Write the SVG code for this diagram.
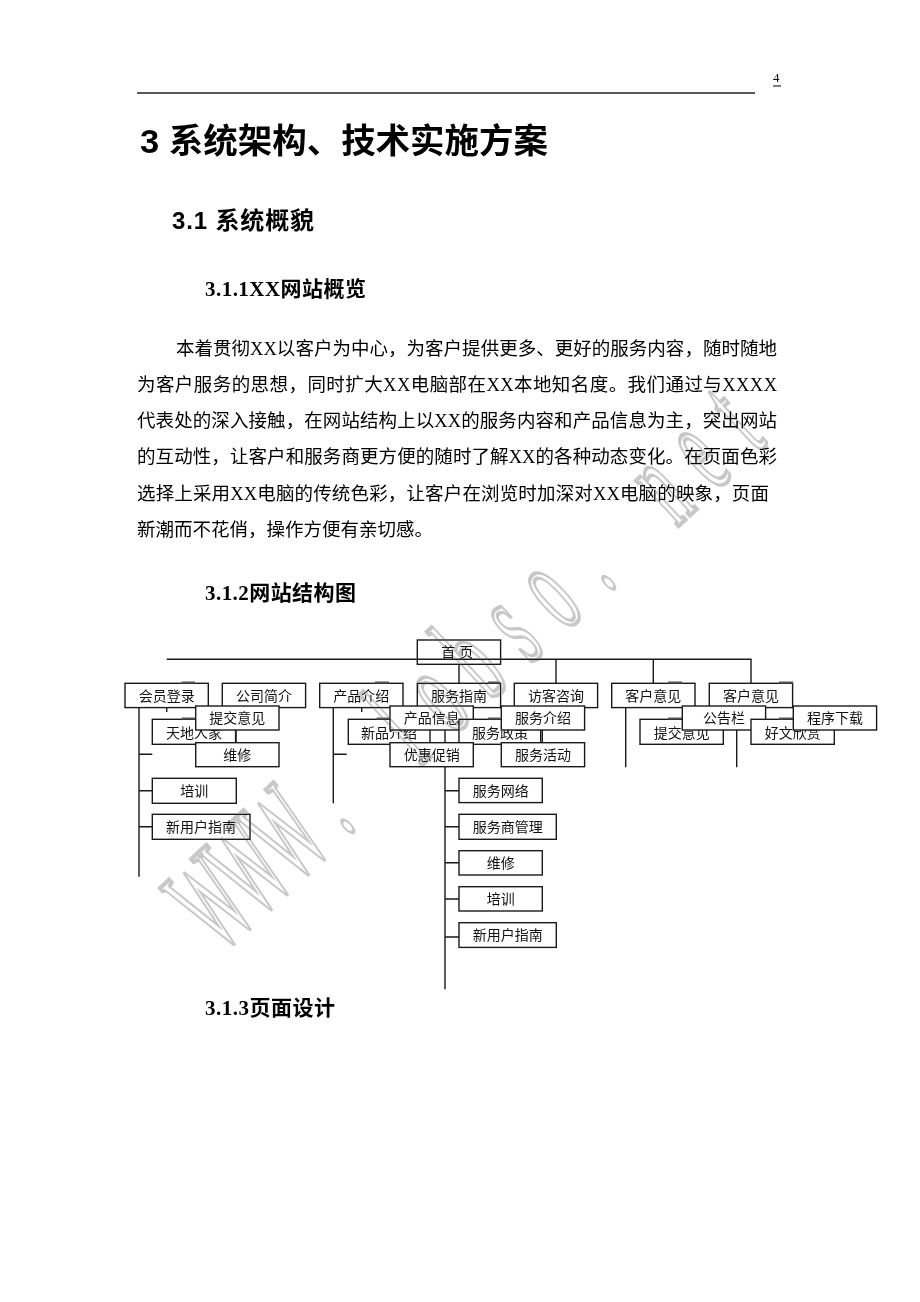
<svg xmlns="http://www.w3.org/2000/svg" width="920" height="1302" viewBox="0 0 920 1302">
<style>
.box{fill:#fff;stroke:#1a1a1a;stroke-width:1.4}
.bt{font-family:"Liberation Serif","Noto Sans CJK SC",serif;font-size:14px;text-anchor:middle;fill:#111}
.ln{stroke:#1a1a1a;stroke-width:1.4;fill:none}
.tab{fill:#555}
.p{font-family:"Liberation Serif","Noto Sans CJK SC",serif;font-size:18.5px;fill:#000}
.h3{font-family:"Liberation Serif","Noto Sans CJK SC",serif;font-size:21px;font-weight:bold;fill:#000}
.h1{font-family:"Liberation Sans","Noto Sans CJK SC",sans-serif;font-weight:bold;fill:#000}
.wm{font-family:"Liberation Serif",serif;font-size:118px;text-anchor:middle;fill:none;stroke:#c8c8c8;stroke-width:3.2;vector-effect:non-scaling-stroke}
</style>
<rect width="920" height="1302" fill="#fff"/>
<g id="header">
<text x="773" y="82" font-family="Liberation Serif,serif" font-size="13" fill="#000">4</text>
<line x1="773" y1="86" x2="781" y2="86" stroke="#000" stroke-width="1"/>
<line x1="137" y1="93" x2="755" y2="93" stroke="#222" stroke-width="1.5"/>
</g>
<g id="headings">
<text class="h1" x="140" y="153" font-size="34" textLength="408" lengthAdjust="spacingAndGlyphs">3 系统架构、技术实施方案</text>
<text class="h1" x="172" y="229" font-size="24" textLength="142" lengthAdjust="spacing">3.1 系统概貌</text>
<text class="h3" x="205" y="296" textLength="161" lengthAdjust="spacing">3.1.1XX网站概览</text>
<text class="h3" x="205" y="600" textLength="151" lengthAdjust="spacing">3.1.2网站结构图</text>
<text class="h3" x="205" y="1015" textLength="130" lengthAdjust="spacing">3.1.3页面设计</text>
</g>
<g id="paragraph">
<text class="p" x="176" y="355" textLength="601" lengthAdjust="spacing">本着贯彻XX以客户为中心，为客户提供更多、更好的服务内容，随时随地</text>
<text class="p" x="137" y="391" textLength="640" lengthAdjust="spacing">为客户服务的思想，同时扩大XX电脑部在XX本地知名度。我们通过与XXXX</text>
<text class="p" x="137" y="427" textLength="640" lengthAdjust="spacing">代表处的深入接触，在网站结构上以XX的服务内容和产品信息为主，突出网站</text>
<text class="p" x="137" y="463" textLength="640" lengthAdjust="spacing">的互动性，让客户和服务商更方便的随时了解XX的各种动态变化。在页面色彩</text>
<text class="p" x="137" y="500" textLength="632" lengthAdjust="spacing">选择上采用XX电脑的传统色彩，让客户在浏览时加深对XX电脑的映象，页面</text>
<text class="p" x="137" y="536">新潮而不花俏，操作方便有亲切感。</text>
</g>
<g id="connectors">
<path class="ln" d="M139 707.7V876.7M139 754.3H152.3M139 790.7H152.3M139 826.7H152.3M166.7 707.7V712M236 730V742.7"/>
<path class="ln" d="M333.3 707.7V803.3M333.3 754.3H346.7M361.7 707.7V712"/>
<path class="ln" d="M445 707.7V989.3M445 790.7H459M445 826.7H459M445 862.7H459M445 899H459M445 937H459M542.3 730V742.7"/>
<path class="ln" d="M625.7 707.7V767.3M736.7 707.7V767.3"/>
</g>
<g id="n-home"><rect class="box" x="417.3" y="640" width="83.3" height="24.3"/><text class="bt" x="457.3" y="657" textLength="32" lengthAdjust="spacing">首 页</text></g>
<g id="top-links">
<path class="ln" d="M166.7 659.3H751V683.3M459 664.3V683.3M556 659.3V683.3M653.3 659.3V683.3"/>
</g>
<g id="n-member"><rect class="box" x="125" y="683.3" width="83.3" height="24.3"/><text class="bt" x="166.7" y="700.5">会员登录</text></g>
<g id="n-company"><rect class="box" x="222.3" y="683.3" width="83.3" height="24.3"/><text class="bt" x="264" y="700.5">公司简介</text></g>
<g id="n-product"><rect class="box" x="319.7" y="683.3" width="83.3" height="24.3"/><text class="bt" x="361.3" y="700.5">产品介绍</text></g>
<g id="n-service"><rect class="box" x="417.3" y="683.3" width="83.3" height="24.3"/><text class="bt" x="459" y="700.5">服务指南</text></g>
<g id="n-visitor"><rect class="box" x="514.3" y="683.3" width="83.3" height="24.3"/><text class="bt" x="556" y="700.5">访客咨询</text></g>
<g id="n-feedback1"><rect class="box" x="611.7" y="683.3" width="83.3" height="24.3"/><text class="bt" x="653.3" y="700.5">客户意见</text></g>
<g id="n-feedback2"><rect class="box" x="709.3" y="683.3" width="83.3" height="24.3"/><text class="bt" x="751" y="700.5">客户意见</text></g>
<g id="tabs">
<rect class="tab" x="181.7" y="681.5" width="13.3" height="2"/>
<rect class="tab" x="375" y="681.5" width="14" height="2"/>
<rect class="tab" x="488" y="681.5" width="12" height="2"/>
<rect class="tab" x="668" y="681.5" width="14" height="2"/>
<rect class="tab" x="779" y="681.5" width="14" height="2"/>
</g>
<g id="n-tiandi"><rect class="box" x="152.3" y="719.3" width="83.3" height="25"/><text class="bt" x="194" y="738">天地人家</text><rect class="tab" x="181.7" y="717.5" width="13.3" height="2"/></g>
<g id="n-newprod"><rect class="box" x="348.3" y="719.3" width="81.7" height="25"/><text class="bt" x="389" y="738">新品介绍</text><rect class="tab" x="376.7" y="717.5" width="12.6" height="2"/></g>
<g id="n-submit1"><rect class="box" x="195.7" y="706" width="83.3" height="24"/><text class="bt" x="237.3" y="723">提交意见</text></g>
<g id="n-prodinfo"><rect class="box" x="390" y="706" width="83.3" height="24"/><text class="bt" x="431.7" y="723">产品信息</text></g>
<g id="n-policy"><rect class="box" x="459" y="719.3" width="81.7" height="25"/><text class="bt" x="500" y="738">服务政策</text><rect class="tab" x="488" y="717.5" width="12" height="2"/></g>
<g id="n-svcintro"><rect class="box" x="501.3" y="706" width="83.3" height="24"/><text class="bt" x="543" y="723">服务介绍</text></g>
<g id="n-submit2"><rect class="box" x="640" y="719.3" width="83.3" height="25"/><text class="bt" x="681.7" y="738">提交意见</text><rect class="tab" x="668" y="717.5" width="14" height="2"/></g>
<g id="n-board"><rect class="box" x="682.3" y="706" width="83.3" height="24"/><text class="bt" x="724" y="723">公告栏</text></g>
<g id="n-articles"><rect class="box" x="751" y="719.3" width="83.3" height="25"/><text class="bt" x="792.7" y="738">好文欣赏</text><rect class="tab" x="779" y="717.5" width="14" height="2"/></g>
<g id="n-download"><rect class="box" x="793.3" y="706" width="83.3" height="24"/><text class="bt" x="835" y="723">程序下载</text></g>
<g id="n-repair1"><rect class="box" x="195.7" y="742.7" width="83.3" height="24"/><text class="bt" x="237.3" y="760">维修</text></g>
<g id="n-promo"><rect class="box" x="390" y="742.7" width="83.3" height="24"/><text class="bt" x="431.7" y="760">优惠促销</text></g>
<g id="n-activity"><rect class="box" x="501.3" y="742.7" width="83.3" height="24"/><text class="bt" x="543" y="760">服务活动</text></g>
<g id="n-train1"><rect class="box" x="152.3" y="778.3" width="84" height="25"/><text class="bt" x="194.3" y="795.5">培训</text></g>
<g id="n-guide1"><rect class="box" x="152.3" y="814.3" width="97.7" height="25"/><text class="bt" x="201" y="831.5">新用户指南</text></g>
<g id="n-network"><rect class="box" x="459" y="778.3" width="83.3" height="24.3"/><text class="bt" x="500.7" y="795.5">服务网络</text></g>
<g id="n-dealer"><rect class="box" x="459" y="814.3" width="97.3" height="25"/><text class="bt" x="507.7" y="831.8">服务商管理</text></g>
<g id="n-repair2"><rect class="box" x="459" y="850.7" width="83.3" height="24.3"/><text class="bt" x="500.7" y="867.8">维修</text></g>
<g id="n-train2"><rect class="box" x="459" y="886.7" width="83.3" height="24.3"/><text class="bt" x="500.7" y="903.8">培训</text></g>
<g id="n-guide2"><rect class="box" x="459" y="922.7" width="97.3" height="24.7"/><text class="bt" x="507.7" y="940">新用户指南</text></g>
<g id="watermark" style="mix-blend-mode:darken">
<text class="wm" transform="translate(240,935) rotate(-43) scale(0.5,1.15)" x="0 102 204 306 408 510 612 714 816 918 1020 1122 1224 1326 1428" y="0">WWW. lobso. net</text>
</g>
</svg>
